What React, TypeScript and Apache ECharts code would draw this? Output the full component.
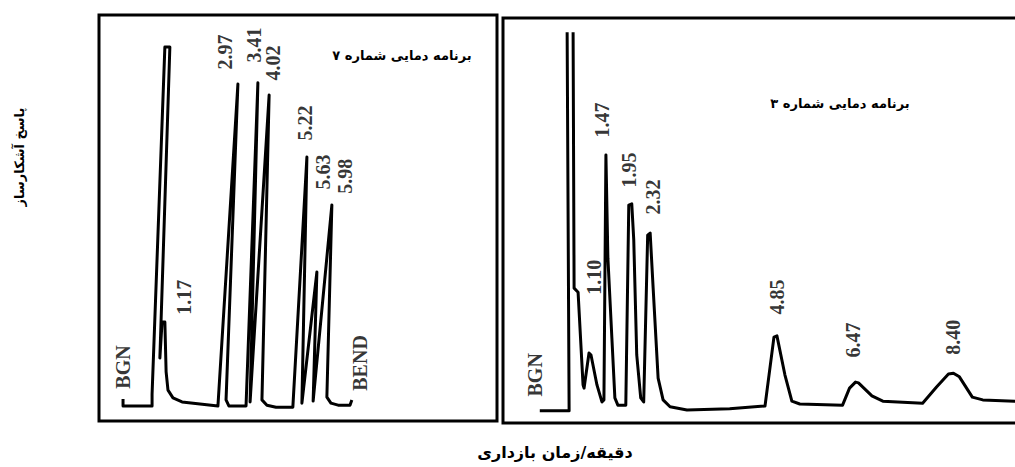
import React, { useEffect, useRef } from "react";
import * as echarts from "echarts";

// Left panel: temperature program 7 — trace as [retention time (min), detector response]
const leftTrace: [number, number][] = [
  [-0.73, 5.4], [-0.73, 3.7], [0.2, 3.7], [0.2, 6.6], [0.61, 92.1], [0.77, 92.1],
  [0.45, 15.5], [0.52, 24.4], [0.61, 24.4], [0.65, 12.1], [0.71, 7.6], [0.87, 5.7],
  [1.16, 4.7], [2.31, 3.7],
  [2.95, 83.0], [2.57, 5.2], [2.66, 3.7], [3.21, 3.7],
  [3.59, 83.3], [3.34, 4.7],
  [3.95, 80.3], [3.72, 5.2], [3.88, 3.9], [4.17, 3.4], [4.71, 3.4],
  [5.16, 65.0], [5.0, 4.4],
  [5.48, 36.7], [5.36, 4.9],
  [5.96, 53.2], [5.8, 5.9], [5.93, 4.4], [6.16, 3.9], [6.54, 3.9], [6.6, 5.2],
];

// Right panel: temperature program 3 — solvent peak rise, then the rest of the trace
const rightTraceA: [number, number][] = [
  [0.09, 3.0], [0.68, 3.0], [0.64, 96.5],
];
const rightTraceB: [number, number][] = [
  [0.76, 96.5], [0.78, 33.3], [0.86, 32.3], [0.96, 9.4], [0.98, 8.6],
  [1.08, 17.3], [1.12, 16.8], [1.24, 9.4], [1.34, 5.2],
  [1.38, 5.7], [1.42, 66.2], [1.46, 40.7], [1.54, 21.0], [1.6, 6.2], [1.66, 4.4], [1.82, 4.4],
  [1.88, 53.8], [1.94, 54.1], [1.98, 45.2], [2.04, 16.8], [2.12, 6.2], [2.18, 5.2],
  [2.26, 46.4], [2.31, 46.9], [2.37, 33.3], [2.47, 11.1], [2.57, 5.7], [2.71, 4.0],
  [3.05, 3.2], [3.91, 3.5], [4.62, 4.2],
  [4.8, 21.2], [4.86, 21.5], [5.02, 11.9], [5.16, 5.4], [5.32, 4.7], [6.18, 4.4],
  [6.32, 8.6], [6.44, 10.1], [6.5, 9.9], [6.77, 6.7], [6.99, 5.4], [7.79, 4.9],
  [8.07, 8.9], [8.31, 12.1], [8.41, 12.3], [8.53, 11.4], [8.79, 6.4], [9.0, 5.7],
  [9.64, 5.4], [9.94, 5.4],
];

// Peak labels (text, time, response)
const leftLabelTexts = ["BGN", "1.17", "2.97", "3.41", "4.02", "5.22", "5.63", "5.98", "BEND"];
const leftLabelTimes = [-0.73, 1.22, 2.54, 3.46, 4.07, 5.1, 5.67, 6.38, 6.86];
const leftLabelResp = [13.3, 30.5, 90.9, 92.6, 88.2, 73.4, 61.3, 60.3, 14.3];

const rightLabelTexts = ["BGN", "1.10", "1.47", "1.95", "2.32", "4.85", "6.47", "8.40"];
const rightLabelTimes = [-0.01, 1.18, 1.34, 1.88, 2.36, 4.86, 6.38, 8.41];
const rightLabelResp = [11.9, 36.0, 74.8, 62.5, 55.8, 31.1, 20.5, 21.2];

const leftTitle = "برنامه دمایی شماره ۷";
const rightTitle = "برنامه دمایی شماره ۳";
const yTitle = "پاسخ آشکارساز";
const xTitle = "دقیقه/زمان بازداری";

const lineStyle = { color: "#000", width: 3, join: "round" as const };
const labelStyle = {
  show: true,
  position: "inside" as const,
  rotate: 90,
  formatter: "{b}",
  fontFamily: "Liberation Serif",
  fontWeight: "bold" as const,
  fontSize: 20,
  color: "#000",
};

function makeLabels(texts: string[], times: number[], resp: number[]) {
  return texts.map((t, i) => ({ name: t, value: [times[i], resp[i]] }));
}

function hiddenAxis(extra: any) {
  return {
    type: "value",
    axisLine: { show: false },
    axisTick: { show: false },
    axisLabel: { show: false },
    splitLine: { show: false },
    ...extra,
  };
}

function txt(text: string, x: number, y: number, size: number, rotation = 0) {
  return {
    type: "text", x, y, rotation,
    style: {
      text, fontFamily: "DejaVu Sans", fontWeight: "bold", fontSize: size, fill: "#000",
      align: "center", verticalAlign: "middle", textAlign: "center", textVerticalAlign: "middle",
    },
  };
}

export default function App() {
  const ref = useRef<HTMLDivElement>(null);
  useEffect(() => {
    if (!ref.current) return;
    const chart = echarts.init(ref.current, undefined, { renderer: "svg" });
    chart.setOption({
      animation: false,
      backgroundColor: "#fff",
      grid: [
        { left: 99, top: 15, width: 398, height: 406, show: true, borderColor: "#000", borderWidth: 3, backgroundColor: "#fff" },
        { left: 503, top: 18, width: 527, height: 405, show: true, borderColor: "#000", borderWidth: 3, backgroundColor: "#fff" },
      ],
      xAxis: [
        hiddenAxis({ gridIndex: 0, min: -1.5, max: 11.25 }),
        hiddenAxis({ gridIndex: 1, min: -0.65, max: 9.95 }),
      ],
      yAxis: [
        hiddenAxis({ gridIndex: 0, min: 0, max: 100 }),
        hiddenAxis({ gridIndex: 1, min: 0, max: 100 }),
      ],
      series: [
        { type: "line", xAxisIndex: 0, yAxisIndex: 0, data: leftTrace, showSymbol: false, lineStyle, silent: true },
        { type: "line", xAxisIndex: 1, yAxisIndex: 1, data: rightTraceA, showSymbol: false, lineStyle, silent: true },
        { type: "line", xAxisIndex: 1, yAxisIndex: 1, data: rightTraceB, showSymbol: false, lineStyle, silent: true },
        {
          type: "scatter", xAxisIndex: 0, yAxisIndex: 0, symbolSize: 0, silent: true,
          data: makeLabels(leftLabelTexts, leftLabelTimes, leftLabelResp), label: labelStyle,
        },
        {
          type: "scatter", xAxisIndex: 1, yAxisIndex: 1, symbolSize: 0, silent: true,
          data: makeLabels(rightLabelTexts, rightLabelTimes, rightLabelResp), label: labelStyle,
        },
      ],
      graphic: [
        txt(leftTitle, 402, 55, 13),
        txt(rightTitle, 840, 103, 13),
        txt(yTitle, 19, 157, 13, Math.PI / 2),
        txt(xTitle, 555, 452, 16),
      ],
    });
    return () => chart.dispose();
  }, []);
  return (
    <div style={{ position: "absolute", left: 0, top: 0, width: 1015, height: 467, overflow: "hidden", background: "#fff" }}>
      <div ref={ref} style={{ width: 1040, height: 467 }} />
    </div>
  );
}
